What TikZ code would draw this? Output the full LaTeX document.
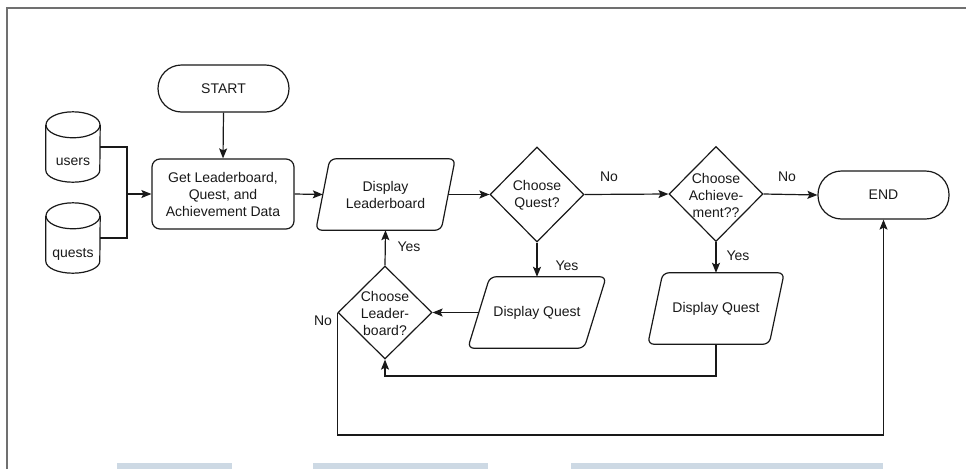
\documentclass[tikz,border=0pt]{standalone}
\usepackage{fontspec}
\setmainfont{Liberation Sans}
\usetikzlibrary{shapes.geometric,arrows.meta,calc}
\definecolor{framegray}{RGB}{112,112,112}
\definecolor{barblue}{RGB}{205,217,228}
\definecolor{ink}{RGB}{25,25,25}
\newcommand\drawcyl[1]{%
  \draw[shp] ($(#1.north west)+(0,13)$) -- ($(#1.south west)+(0,-12)$)
    arc[start angle=180,end angle=0,x radius=27,y radius=12]
    -- ($(#1.north east)+(0,13)$);
  \draw[shp] ($(#1.north)+(0,13)$) ellipse[x radius=27,y radius=13];}
\newcommand\drawpara[2]{%
  \draw[shp,rounded corners=6] ($(#1.south west)+(-#2,0)$) -- ($(#1.north west)+(#2,0)$)
    -- ($(#1.north east)+(#2,0)$) -- ($(#1.south east)+(-#2,0)$) -- cycle;}
\begin{document}
\begin{tikzpicture}[x=1pt,y=-1pt,
  shp/.style={draw=ink,line width=1.2pt},
  txt/.style={font=\fontsize{14}{17}\selectfont,align=center,inner sep=0pt,text=ink},
  term/.style={shp,txt,rectangle,rounded corners=23.5pt,minimum width=131,minimum height=47},
  procbox/.style={shp,txt,rectangle,rounded corners=8pt,minimum width=142,minimum height=70},
  paraholder/.style={txt,minimum height=71},
  dia/.style={shp,diamond,inner sep=0pt,minimum width=94,minimum height=95},
  cylholder/.style={inner sep=0pt,minimum width=54,minimum height=70},
  ln/.style={draw=ink,line width=1.2pt},
  arr/.style={ln,-{Stealth[length=10pt,width=8pt,inset=2pt]}},
  lbl/.style={txt}
]
\useasboundingbox (0,0) rectangle (966,469);
% page frame remnants
\draw[framegray,line width=2pt] (7,469) -- (7,8) -- (966,8);
\fill[barblue] (117,463) rectangle (232,469);
\fill[barblue] (313,463) rectangle (488,469);
\fill[barblue] (571,463) rectangle (883,469);

% nodes
\node[term] (start) at (223.5,88.5) {START};
\node[procbox] (get) at (223,194) {Get Leaderboard,\\Quest, and\\Achievement Data};
\node[cylholder] (users) at (73,147) {};
\node[cylholder] (quests) at (73,238) {};
\drawcyl{users}
\drawcyl{quests}
\node[txt] (usersT) at (73,162) {users};
\node[txt] (questsT) at (73,254) {quests};

\node[paraholder,minimum width=125] (dlb) at (385.5,194.5) {Display\\Leaderboard};
\drawpara{dlb}{7}
\node[dia] (cq) at (537,194.5) {};
\node[txt] (cqT) at (537,195) {Choose\\Quest?};
\node[dia] (ca) at (716,194) {};
\node[txt] (caT) at (716,195) {Choose\\Achieve-\\ment??};
\node[term,minimum height=48] (end) at (883.5,195) {END};

\node[paraholder,minimum width=116] (dq1) at (537,312.5) {Display Quest};
\drawpara{dq1}{11}
\node[paraholder,minimum width=121] (dq2) at (716,308.5) {Display Quest};
\drawpara{dq2}{7.5}
\node[dia,minimum height=93] (clb) at (385,312.5) {};
\node[txt] (clbT) at (385,313) {Choose\\Leader-\\board?};

% connectors
\coordinate (mrg) at (127,194);
\draw[ln] (users.east) -| (mrg);
\draw[ln] (quests.east) -| (mrg);
\draw[arr] (mrg) -- (get.west);
\draw[arr] (start.south) -- (get.north);
\draw[arr] (get.east) -- (dlb.west);
\draw[arr] (dlb.east) -- (cq.west);
\draw[arr] (cq.east) -- (ca.west);
\draw[arr] (ca.east) -- (end.west);
\draw[arr] (cq.south) -- (dq1.north);
\draw[arr] (ca.south) -- (dq2.north);
\draw[arr] (dq1.west) -- (clb.east);
\draw[arr] (clb.north) -- (dlb.south);
\coordinate (nobot) at (0,435);
\draw[arr] (clb.west) -- (clb.west |- nobot) -| (end.south);
\coordinate (dqbot) at (0,376);
\draw[arr] (dq2.south) -- (dq2.south |- dqbot) -| (clb.south);

% labels
\node[lbl] (no1) at (609,177) {No};
\node[lbl] (no2) at (787,177) {No};
\node[lbl] (yes1) at (567,266) {Yes};
\node[lbl] (yes2) at (738,256) {Yes};
\node[lbl] (yes3) at (409,247) {Yes};
\node[lbl] (no3) at (323,321) {No};
\end{tikzpicture}
\end{document}
